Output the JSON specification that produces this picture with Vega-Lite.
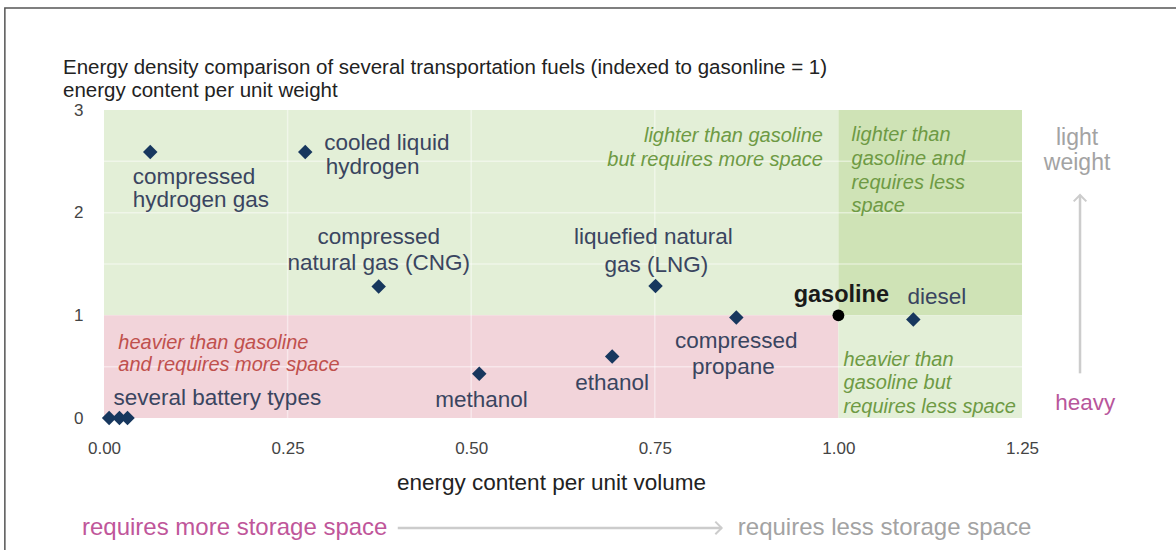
{
  "$schema": "https://vega.github.io/schema/vega-lite/v6.json",
  "width": 918,
  "height": 308,
  "autosize": {"type": "none"},
  "padding": {"left": 104, "top": 110, "right": 154, "bottom": 132},
  "background": "white",
  "config": {"font": "Liberation Sans", "view": {"stroke": null}},
  "datasets": {
    "frame": [{"x": -0.135, "x2": 1.8, "y": 3.993, "y2": -2.5}],
    "zones": [
      {"zone": "lighter, more space", "x": 0, "x2": 1, "y": 1, "y2": 3},
      {"zone": "lighter, less space", "x": 1, "x2": 1.25, "y": 1, "y2": 3},
      {"zone": "heavier, more space", "x": 0, "x2": 1, "y": 0, "y2": 1},
      {"zone": "heavier, less space", "x": 1, "x2": 1.25, "y": 0, "y2": 1}
    ],
    "grid": [
      {"x": 0.25, "x2": 0.25, "y": 0, "y2": 3},
      {"x": 0.5, "x2": 0.5, "y": 0, "y2": 3},
      {"x": 0.75, "x2": 0.75, "y": 0, "y2": 3},
      {"x": 0, "x2": 1.25, "y": 0.5, "y2": 0.5},
      {"x": 0, "x2": 1.25, "y": 1.5, "y2": 1.5},
      {"x": 0, "x2": 1.25, "y": 2, "y2": 2},
      {"x": 0, "x2": 1.25, "y": 2.5, "y2": 2.5}
    ],
    "arrows": [
      {"dir": "up", "x": 1.329, "y": 0.435, "x2": 1.329, "y2": 2.172},
      {"dir": "right", "x": 0.4, "y": -1.071, "x2": 0.841, "y2": -1.071}
    ],
    "points": [
      {"fuel": "compressed hydrogen gas", "x": 0.063, "y": 2.59, "kind": "fuel"},
      {"fuel": "cooled liquid hydrogen", "x": 0.274, "y": 2.59, "kind": "fuel"},
      {"fuel": "compressed natural gas (CNG)", "x": 0.374, "y": 1.28, "kind": "fuel"},
      {"fuel": "liquefied natural gas (LNG)", "x": 0.751, "y": 1.285, "kind": "fuel"},
      {"fuel": "compressed propane", "x": 0.861, "y": 0.98, "kind": "fuel"},
      {"fuel": "ethanol", "x": 0.692, "y": 0.6, "kind": "fuel"},
      {"fuel": "methanol", "x": 0.511, "y": 0.43, "kind": "fuel"},
      {"fuel": "diesel", "x": 1.102, "y": 0.96, "kind": "fuel"},
      {"fuel": "battery type A", "x": 0.007, "y": 0.0, "kind": "fuel"},
      {"fuel": "battery type B", "x": 0.021, "y": 0.0, "kind": "fuel"},
      {"fuel": "battery type C", "x": 0.032, "y": 0.0, "kind": "fuel"},
      {"fuel": "gasoline", "x": 1.0, "y": 1.0, "kind": "reference"}
    ],
    "labels": [
      {"text": "Energy density comparison of several transportation fuels (indexed to gasonline = 1)", "x": -0.0558, "y": 3.41, "role": "title"},
      {"text": "energy content per unit weight", "x": -0.0558, "y": 3.185, "role": "title"},
      {"text": "compressed", "x": 0.039, "y": 2.35, "role": "fuel-left"},
      {"text": "hydrogen gas", "x": 0.039, "y": 2.12, "role": "fuel-left"},
      {"text": "cooled liquid", "x": 0.3, "y": 2.675, "role": "fuel-left"},
      {"text": "hydrogen", "x": 0.302, "y": 2.448, "role": "fuel-left"},
      {"text": "several battery types", "x": 0.013, "y": 0.19, "role": "fuel-left"},
      {"text": "compressed", "x": 0.374, "y": 1.766, "role": "fuel-center"},
      {"text": "natural gas (CNG)", "x": 0.374, "y": 1.507, "role": "fuel-center"},
      {"text": "liquefied natural", "x": 0.748, "y": 1.766, "role": "fuel-center"},
      {"text": "gas (LNG)", "x": 0.752, "y": 1.49, "role": "fuel-center"},
      {"text": "compressed", "x": 0.861, "y": 0.753, "role": "fuel-center"},
      {"text": "propane", "x": 0.857, "y": 0.5, "role": "fuel-center"},
      {"text": "ethanol", "x": 0.692, "y": 0.338, "role": "fuel-center"},
      {"text": "methanol", "x": 0.514, "y": 0.175, "role": "fuel-center"},
      {"text": "diesel", "x": 1.134, "y": 1.18, "role": "fuel-center"},
      {"text": "gasoline", "x": 1.004, "y": 1.198, "role": "reference"},
      {"text": "lighter than gasoline", "x": 0.979, "y": 2.75, "role": "note-green-right"},
      {"text": "but requires more space", "x": 0.979, "y": 2.51, "role": "note-green-right"},
      {"text": "lighter than", "x": 1.018, "y": 2.756, "role": "note-green-left"},
      {"text": "gasoline and", "x": 1.018, "y": 2.52, "role": "note-green-left"},
      {"text": "requires less", "x": 1.018, "y": 2.286, "role": "note-green-left"},
      {"text": "space", "x": 1.018, "y": 2.065, "role": "note-green-left"},
      {"text": "heavier than", "x": 1.007, "y": 0.565, "role": "note-green-left"},
      {"text": "gasoline but", "x": 1.007, "y": 0.338, "role": "note-green-left"},
      {"text": "requires less space", "x": 1.007, "y": 0.11, "role": "note-green-left"},
      {"text": "heavier than gasoline", "x": 0.0195, "y": 0.733, "role": "note-red-left"},
      {"text": "and requires more space", "x": 0.0195, "y": 0.516, "role": "note-red-left"},
      {"text": "light", "x": 1.325, "y": 2.724, "role": "scale-gray-center"},
      {"text": "weight", "x": 1.325, "y": 2.48, "role": "scale-gray-center"},
      {"text": "heavy", "x": 1.336, "y": 0.143, "role": "scale-pink-center"},
      {"text": "requires more storage space", "x": -0.03, "y": -1.071, "role": "scale-pink-left"},
      {"text": "requires less storage space", "x": 0.863, "y": -1.071, "role": "scale-gray-left"}
    ]
  },
  "encoding": {
    "x": {
      "field": "x",
      "type": "quantitative",
      "scale": {"domain": [0, 1.25], "nice": false, "zero": false},
      "axis": {
        "values": [0, 0.25, 0.5, 0.75, 1, 1.25],
        "format": ".2f",
        "grid": false,
        "domain": false,
        "ticks": false,
        "tickSize": 0,
        "labelFlush": false,
        "labelPadding": 22,
        "labelFontSize": 17,
        "labelColor": "#444444",
        "labelFont": "Liberation Sans",
        "title": "energy content per unit volume",
        "titleFontSize": 22.5,
        "titleFontWeight": "normal",
        "titleColor": "#222222",
        "titleFont": "Liberation Sans",
        "titleX": 447,
        "titlePadding": 15
      }
    },
    "y": {
      "field": "y",
      "type": "quantitative",
      "scale": {"domain": [0, 3], "nice": false, "zero": false},
      "axis": {
        "values": [0, 1, 2, 3],
        "format": "d",
        "grid": false,
        "domain": false,
        "ticks": false,
        "tickSize": 0,
        "labelFlush": false,
        "labelPadding": 21,
        "labelFontSize": 17,
        "labelColor": "#444444",
        "labelFont": "Liberation Sans",
        "title": null
      }
    }
  },
  "layer": [
    {
      "data": {"name": "frame"},
      "mark": {"type": "rect", "fillOpacity": 0, "stroke": "#555555", "strokeWidth": 1.5, "clip": false},
      "encoding": {"x2": {"field": "x2"}, "y2": {"field": "y2"}}
    },
    {
      "data": {"name": "zones"},
      "mark": {"type": "rect"},
      "encoding": {
        "x2": {"field": "x2"},
        "y2": {"field": "y2"},
        "color": {
          "field": "zone",
          "type": "nominal",
          "scale": {
            "domain": ["lighter, more space", "lighter, less space", "heavier, more space", "heavier, less space"],
            "range": ["#e3efd7", "#cfe3b6", "#f2d4da", "#e3efd7"]
          },
          "legend": null
        }
      }
    },
    {
      "data": {"name": "grid"},
      "mark": {"type": "rule", "color": "#ffffff", "opacity": 0.45, "strokeWidth": 1.5},
      "encoding": {"x2": {"field": "x2"}, "y2": {"field": "y2"}}
    },
    {
      "data": {"name": "arrows"},
      "mark": {"type": "rule", "color": "#cccccc", "strokeWidth": 2.5, "clip": false},
      "encoding": {"x2": {"field": "x2"}, "y2": {"field": "y2"}}
    },
    {
      "data": {"name": "arrows"},
      "transform": [{"filter": "datum.dir === 'up'"}],
      "mark": {"type": "point", "shape": "M-1,-1L0,0L-1,1", "filled": false, "stroke": "#cccccc", "strokeWidth": 2, "size": 160, "angle": 270, "clip": false, "opacity": 1},
      "encoding": {"x": {"field": "x2", "type": "quantitative"}, "y": {"field": "y2", "type": "quantitative"}}
    },
    {
      "data": {"name": "arrows"},
      "transform": [{"filter": "datum.dir === 'right'"}],
      "mark": {"type": "point", "shape": "M-1,-1L0,0L-1,1", "filled": false, "stroke": "#cccccc", "strokeWidth": 2, "size": 160, "angle": 0, "clip": false, "opacity": 1},
      "encoding": {"x": {"field": "x2", "type": "quantitative"}, "y": {"field": "y2", "type": "quantitative"}}
    },
    {
      "data": {"name": "points"},
      "transform": [{"filter": "datum.kind === 'fuel'"}],
      "mark": {"type": "point", "shape": "diamond", "filled": true, "color": "#17375e", "size": 210, "opacity": 1}
    },
    {
      "data": {"name": "points"},
      "transform": [{"filter": "datum.kind === 'reference'"}],
      "mark": {"type": "point", "shape": "circle", "filled": true, "color": "#000000", "size": 140, "opacity": 1}
    },
    {
      "data": {"name": "labels"},
      "transform": [{"filter": "datum.role === 'title'"}],
      "mark": {"type": "text", "align": "left", "baseline": "middle", "fontSize": 20.5, "color": "#222222", "clip": false},
      "encoding": {"text": {"field": "text"}}
    },
    {
      "data": {"name": "labels"},
      "transform": [{"filter": "datum.role === 'fuel-left'"}],
      "mark": {"type": "text", "align": "left", "baseline": "middle", "fontSize": 22.5, "color": "#3a4560"},
      "encoding": {"text": {"field": "text"}}
    },
    {
      "data": {"name": "labels"},
      "transform": [{"filter": "datum.role === 'fuel-center'"}],
      "mark": {"type": "text", "align": "center", "baseline": "middle", "fontSize": 22.5, "color": "#3a4560"},
      "encoding": {"text": {"field": "text"}}
    },
    {
      "data": {"name": "labels"},
      "transform": [{"filter": "datum.role === 'reference'"}],
      "mark": {"type": "text", "align": "center", "baseline": "middle", "fontSize": 23.5, "fontWeight": "bold", "color": "#1a1a1a"},
      "encoding": {"text": {"field": "text"}}
    },
    {
      "data": {"name": "labels"},
      "transform": [{"filter": "datum.role === 'note-green-right'"}],
      "mark": {"type": "text", "align": "right", "baseline": "middle", "fontSize": 20, "fontStyle": "italic", "color": "#6e9a44"},
      "encoding": {"text": {"field": "text"}}
    },
    {
      "data": {"name": "labels"},
      "transform": [{"filter": "datum.role === 'note-green-left'"}],
      "mark": {"type": "text", "align": "left", "baseline": "middle", "fontSize": 20, "fontStyle": "italic", "color": "#6e9a44"},
      "encoding": {"text": {"field": "text"}}
    },
    {
      "data": {"name": "labels"},
      "transform": [{"filter": "datum.role === 'note-red-left'"}],
      "mark": {"type": "text", "align": "left", "baseline": "middle", "fontSize": 20, "fontStyle": "italic", "color": "#c0504d"},
      "encoding": {"text": {"field": "text"}}
    },
    {
      "data": {"name": "labels"},
      "transform": [{"filter": "datum.role === 'scale-gray-center'"}],
      "mark": {"type": "text", "align": "center", "baseline": "middle", "fontSize": 23, "color": "#a3a3a3", "clip": false},
      "encoding": {"text": {"field": "text"}}
    },
    {
      "data": {"name": "labels"},
      "transform": [{"filter": "datum.role === 'scale-pink-center'"}],
      "mark": {"type": "text", "align": "center", "baseline": "middle", "fontSize": 22.5, "color": "#b8569b", "clip": false},
      "encoding": {"text": {"field": "text"}}
    },
    {
      "data": {"name": "labels"},
      "transform": [{"filter": "datum.role === 'scale-pink-left'"}],
      "mark": {"type": "text", "align": "left", "baseline": "middle", "fontSize": 24, "color": "#c0569a", "clip": false},
      "encoding": {"text": {"field": "text"}}
    },
    {
      "data": {"name": "labels"},
      "transform": [{"filter": "datum.role === 'scale-gray-left'"}],
      "mark": {"type": "text", "align": "left", "baseline": "middle", "fontSize": 24, "color": "#a3a3a3", "clip": false},
      "encoding": {"text": {"field": "text"}}
    }
  ]
}
